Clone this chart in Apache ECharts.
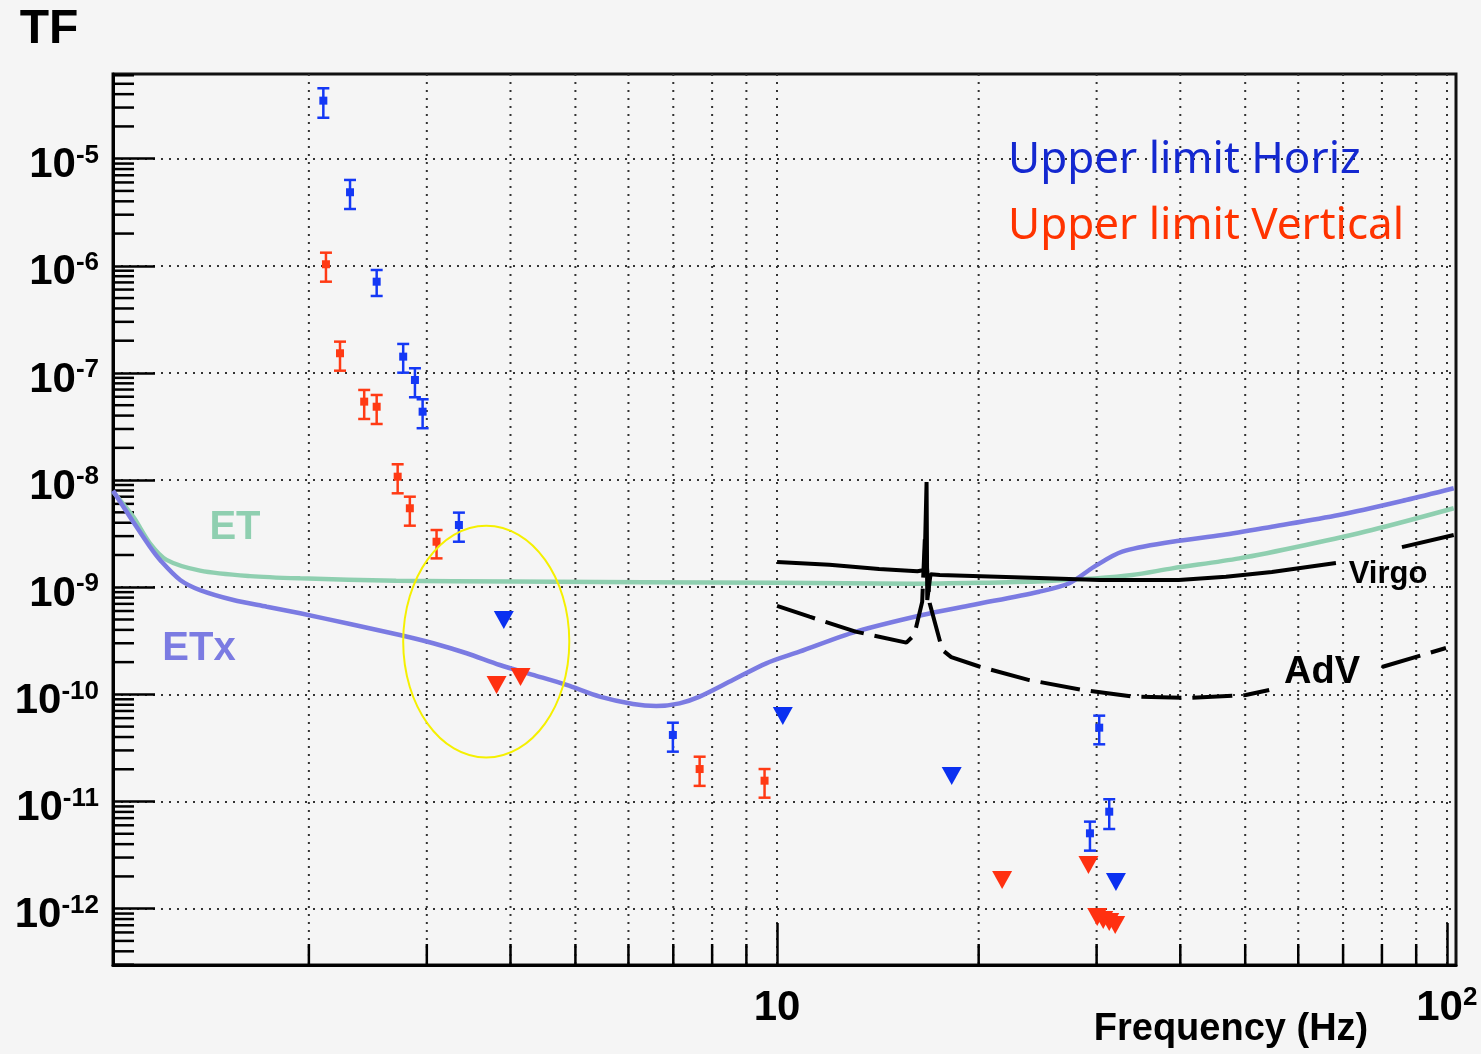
<!DOCTYPE html>
<html><head><meta charset="utf-8">
<script src="https://cdn.jsdelivr.net/npm/echarts@6/dist/echarts.min.js"></script>
<style>html,body{margin:0;padding:0;background:#f5f5f5;} #c{width:1481px;height:1054px;}</style>
</head><body><div id="c"></div>
<script>
// ---- Data ----
const etFreq = [1.02, 1.093, 1.158, 1.226, 1.376, 1.634, 1.941, 2.7, 4.0, 10, 16, 20, 25, 29.8, 33.9, 38.9, 49, 61.6, 77.3, 102.4];
const etTF   = [7.8e-9, 4.56e-9, 2.57e-9, 1.8e-9, 1.43e-9, 1.27e-9, 1.21e-9, 1.15e-9, 1.13e-9, 1.1e-9, 1.08e-9, 1.1e-9, 1.14e-9, 1.21e-9, 1.3e-9, 1.5e-9, 1.86e-9, 2.48e-9, 3.42e-9, 5.46e-9];

const etxFreq = [1.02, 1.093, 1.158, 1.2, 1.285, 1.376, 1.543, 1.731, 1.941, 2.304, 2.735, 3.067, 3.44, 3.856, 4.323, 4.85, 5.437, 6.095, 6.603, 7.154, 7.664, 8.59, 9.636, 10.8, 13.12, 16.48, 19.57, 24.63, 27.31, 29.76, 32.76, 38.9, 46.2, 54.8, 69.0, 86.9, 102.4];
const etxTF   = [7.94e-9, 4.09e-9, 2.39e-9, 1.79e-9, 1.17e-9, 9.41e-10, 7.6e-10, 6.58e-10, 5.71e-10, 4.54e-10, 3.58e-10, 3.0e-10, 2.42e-10, 1.88e-10, 1.52e-10, 1.224e-10, 9.52e-11, 8.13e-11, 7.79e-11, 8.25e-11, 9.52e-11, 1.36e-10, 1.95e-10, 2.5e-10, 3.85e-10, 5.51e-10, 6.83e-10, 9.09e-10, 1.09e-9, 1.556e-9, 2.15e-9, 2.66e-9, 3.07e-9, 3.67e-9, 4.72e-9, 6.52e-9, 8.4e-9];

const virgoFreq = [10.0, 11.97, 14.2, 16.2, 16.6, 16.72, 16.76, 16.95, 17.5, 24.6, 30.3, 39.8, 46.8, 54.8, 68.3, 75, 85.7, 102.4];
const virgoTF   = [1.72e-9, 1.62e-9, 1.48e-9, 1.41e-9, 1.45e-9, 9.6e-9, 7.6e-10, 1.32e-9, 1.30e-9, 1.22e-9, 1.17e-9, 1.17e-9, 1.25e-9, 1.39e-9, 1.68e-9, null, 2.37e-9, 3.07e-9];

const advFreq = [10.0, 11.18, 13.1, 15.6, 16.03, 16.47, 16.62, 16.9, 17.65, 18.2, 20.04, 23.8, 28.6, 33.9, 41.2, 50.1, 54.3, 65, 80, 99.7];
const advTF   = [6.7e-10, 5.31e-10, 3.85e-10, 3.04e-10, 3.59e-10, 7.3e-10, 2.8e-9, 7.1e-10, 2.6e-10, 2.23e-10, 1.82e-10, 1.36e-10, 1.1e-10, 9.55e-11, 9.25e-11, 9.86e-11, 1.1e-10, null, 1.8e-10, 2.71e-10];

// Upper limit Horiz (measured points with error bars)
const hFreq = [2.102, 2.304, 2.525, 2.766, 2.88, 2.957, 3.35, 6.99, 30.27, 31.33, 29.32];
const hTF   = [3.48e-5, 4.86e-6, 7.11e-7, 1.42e-7, 8.6e-8, 4.35e-8, 3.81e-9, 4.18e-11, 4.89e-11, 8.04e-12, 5.05e-12];
const hLow  = [2.41e-5, 3.39e-6, 5.23e-7, 1.006e-7, 5.93e-8, 3.05e-8, 2.66e-9, 2.92e-11, 3.42e-11, 5.54e-12, 3.48e-12];
const hHigh = [4.54e-5, 6.33e-6, 9.14e-7, 1.865e-7, 1.106e-7, 5.68e-8, 4.97e-9, 5.44e-11, 6.33e-11, 1.05e-11, 6.49e-12];
// Upper limit Vertical (measured points with error bars)
const vFreq = [2.121, 2.226, 2.419, 2.525, 2.714, 2.83, 3.102, 7.664, 9.58];
const vTF   = [1.034e-6, 1.527e-7, 5.4e-8, 4.84e-8, 1.076e-8, 5.46e-9, 2.66e-9, 2.01e-11, 1.565e-11];
const vLow  = [7.11e-7, 1.05e-7, 3.72e-8, 3.34e-8, 7.53e-9, 3.755e-9, 1.86e-9, 1.4e-11, 1.086e-11];
const vHigh = [1.326e-6, 1.96e-7, 6.94e-8, 6.23e-8, 1.405e-8, 7.0e-9, 3.42e-9, 2.62e-11, 2.01e-11];
// Upper limits (triangles)
const hLimFreq = [3.909, 10.2, 18.23, 32.06];
const hLimTF   = [4.95e-10, 6.29e-11, 1.73e-11, 1.775e-12];
const vLimFreq = [3.813, 4.14, 21.68, 29.17, 30.06, 30.69, 31.33, 31.98];
const vLimTF   = [1.224e-10, 1.453e-10, 1.853e-12, 2.557e-12, 8.37e-13, 7.84e-13, 7.51e-13, 7.04e-13];
// Highlight ellipse: centre (f, TF), left-edge f, top-edge TF
const ellipseDef = [3.68, 3.11e-10, 2.766, 3.755e-9];

// Axis ranges and tick labels
const xMin = 1.02, xMax = 103.2;
const yMin = 2.98e-13, yMax = 6.17e-5;
const minorMultipliers = [2, 3, 4, 5, 6, 7, 8, 9];
const xDecades = [0, 1];
const yDecades = [-13, -12, -11, -10, -9, -8, -7, -6, -5];

// ---- Build ----
const zip = (a, b) => a.map((v, i) => [v, b[i] === null ? '-' : b[i]]);
const xMinor = [];
xDecades.forEach(d => minorMultipliers.forEach(m => { const v = m * Math.pow(10, d); if (v > xMin && v < xMax) xMinor.push(v); }));
const yMinor = [];
yDecades.forEach(d => minorMultipliers.forEach(m => { const v = m * Math.pow(10, d); if (v > yMin && v < yMax) yMinor.push(v); }));

const FONT = '"Liberation Sans", Arial, Helvetica, sans-serif';
const BLUE = '#1438f5', RED = '#ff3a14';

function isDecade(v) { const l = Math.log10(v); return Math.abs(l - Math.round(l)) < 1e-6; }

function errRender(color) {
  return function (params, api) {
    const f = api.value(0);
    const c = api.coord([f, api.value(1)]);
    const lo = api.coord([f, api.value(2)]);
    const hi = api.coord([f, api.value(3)]);
    const st = { stroke: color, lineWidth: 2.5 };
    return { type: 'group', children: [
      { type: 'line', shape: { x1: c[0], y1: hi[1], x2: c[0], y2: lo[1] }, style: st },
      { type: 'line', shape: { x1: c[0] - 6, y1: hi[1], x2: c[0] + 6, y2: hi[1] }, style: st },
      { type: 'line', shape: { x1: c[0] - 6, y1: lo[1], x2: c[0] + 6, y2: lo[1] }, style: st },
      { type: 'rect', shape: { x: c[0] - 4, y: c[1] - 4, width: 8, height: 8 }, style: { fill: color } }
    ]};
  };
}

const labelRich = {
  b: { fontFamily: FONT, fontWeight: 'bold', fontSize: 42, color: '#000', lineHeight: 46 },
  s: { fontFamily: FONT, fontWeight: 'bold', fontSize: 26, color: '#000', verticalAlign: 'top', lineHeight: 14 }
};

const chart = echarts.init(document.getElementById('c'), null, { renderer: 'canvas' });
chart.setOption({
  backgroundColor: '#f5f5f5',
  animation: false,
  grid: { left: 113, right: 25, top: 74, bottom: 89, show: true, borderColor: '#111', borderWidth: 3, backgroundColor: 'transparent' },
  xAxis: {
    type: 'log', logBase: 10, min: xMin, max: xMax,
    axisLine: { show: true, onZero: false, lineStyle: { color: '#000', width: 3 } },
    axisTick: { show: true, inside: true, length: 42, lineStyle: { color: '#000', width: 2.5 } },
    splitLine: { show: true, showMinLine: false, showMaxLine: false, lineStyle: { color: '#333', width: 2, type: [2, 6] } },
    axisLabel: {
      margin: 20, showMinLabel: false, showMaxLabel: false,
      formatter: v => { if (!isDecade(v)) return ''; const e = Math.round(Math.log10(v)); return e === 1 ? '{b|10}' : '{b|10}{s|' + e + '}'; },
      rich: labelRich
    }
  },
  yAxis: {
    type: 'log', logBase: 10, min: yMin, max: yMax,
    axisLine: { show: true, onZero: false, lineStyle: { color: '#000', width: 3 } },
    axisTick: { show: true, inside: true, length: 42, lineStyle: { color: '#000', width: 2.5 } },
    splitLine: { show: true, showMinLine: false, showMaxLine: false, lineStyle: { color: '#333', width: 2, type: [2, 6] } },
    axisLabel: {
      margin: 14, showMinLabel: false, showMaxLabel: false, padding: [14, 0, 0, 0],
      formatter: v => { if (!isDecade(v)) return ''; const e = Math.round(Math.log10(v)); return '{b|10}{s|' + e + '}'; },
      rich: labelRich
    }
  },
  graphic: [
    { type: 'text', z: 100, style: { text: 'TF', x: 49, y: 30, font: 'bold 48px ' + FONT, fill: '#000', align: 'center', verticalAlign: 'middle' } },
    { type: 'text', z: 100, style: { text: 'ET', x: 235, y: 528, font: 'bold 40px ' + FONT, fill: '#8fcfb0', align: 'center', verticalAlign: 'middle' } },
    { type: 'text', z: 100, style: { text: 'ETx', x: 199, y: 649, font: 'bold 40px ' + FONT, fill: '#7b7be2', align: 'center', verticalAlign: 'middle' } },
    { type: 'text', z: 100, style: { text: 'Virgo', x: 1388, y: 574, font: 'bold 31px ' + FONT, fill: '#000', align: 'center', verticalAlign: 'middle' } },
    { type: 'text', z: 100, style: { text: 'AdV', x: 1322, y: 673, font: 'bold 38px ' + FONT, fill: '#000', align: 'center', verticalAlign: 'middle' } },
    { type: 'text', z: 100, style: { text: 'Frequency (Hz)', x: 1231, y: 1030, font: 'bold 38px ' + FONT, fill: '#000', align: 'center', verticalAlign: 'middle' } },
    { type: 'text', z: 100, style: { text: 'Upper limit Horiz', x: 1008, y: 160, font: '44px "Noto Sans", sans-serif', fill: '#1428d0', align: 'left', verticalAlign: 'middle' } },
    { type: 'text', z: 100, style: { text: 'Upper limit Vertical', x: 1008, y: 226, font: '44px "Noto Sans", sans-serif', fill: '#ff3300', align: 'left', verticalAlign: 'middle' } }
  ],
  series: [
    { // minor vertical grid lines + minor x ticks
      type: 'custom', z: 1, silent: true,
      data: xMinor.map(v => [v, 1e-8]),
      encode: { x: 0, y: 1 },
      renderItem: (params, api) => {
        const p = api.coord([api.value(0), api.value(1)]);
        const cs = params.coordSys;
        return { type: 'group', children: [
          { type: 'line', shape: { x1: p[0], y1: cs.y, x2: p[0], y2: cs.y + cs.height }, style: { stroke: '#333', lineWidth: 2, lineDash: [2, 6] } },
          { type: 'line', shape: { x1: p[0], y1: cs.y + cs.height, x2: p[0], y2: cs.y + cs.height - 21 }, style: { stroke: '#000', lineWidth: 2.5 } }
        ]};
      }
    },
    { // minor y ticks
      type: 'custom', z: 1, silent: true,
      data: yMinor.map(v => [10, v]),
      encode: { x: 0, y: 1 },
      renderItem: (params, api) => {
        const p = api.coord([api.value(0), api.value(1)]);
        const cs = params.coordSys;
        return { type: 'line', shape: { x1: cs.x, y1: p[1], x2: cs.x + 21, y2: p[1] }, style: { stroke: '#000', lineWidth: 2.5 } };
      }
    },
    { name: 'ET', type: 'line', z: 3, showSymbol: false, smooth: 0.3, data: zip(etFreq, etTF), lineStyle: { color: '#8fcfb0', width: 4.5 } },
    { name: 'ETx', type: 'line', z: 3, showSymbol: false, smooth: 0.3, data: zip(etxFreq, etxTF), lineStyle: { color: '#7b7be2', width: 4.5 } },
    { name: 'Virgo', type: 'line', z: 4, showSymbol: false, connectNulls: false, data: zip(virgoFreq, virgoTF), lineStyle: { color: '#000', width: 4 } },
    { name: 'AdV', type: 'line', z: 4, showSymbol: false, connectNulls: false, data: zip(advFreq, advTF), lineStyle: { color: '#000', width: 4, type: [40, 11] } },
    { name: 'Horiz', type: 'custom', z: 5, data: hFreq.map((f, i) => [f, hTF[i], hLow[i], hHigh[i]]), encode: { x: 0, y: [1, 2, 3] }, renderItem: errRender(BLUE) },
    { name: 'Vertical', type: 'custom', z: 5, data: vFreq.map((f, i) => [f, vTF[i], vLow[i], vHigh[i]]), encode: { x: 0, y: [1, 2, 3] }, renderItem: errRender(RED) },
    { name: 'Horiz limit', type: 'scatter', z: 5, symbol: 'triangle', symbolRotate: 180, symbolSize: [20, 18], data: zip(hLimFreq, hLimTF), itemStyle: { color: '#0a30f0', opacity: 1 } },
    { name: 'Vertical limit', type: 'scatter', z: 5, symbol: 'triangle', symbolRotate: 180, symbolSize: [20, 18], data: zip(vLimFreq, vLimTF), itemStyle: { color: '#ff3010', opacity: 1 } },
    { name: 'highlight', type: 'custom', z: 6, silent: true, data: [ellipseDef], encode: { x: 0, y: 1 },
      renderItem: (params, api) => {
        const c = api.coord([api.value(0), api.value(1)]);
        const l = api.coord([api.value(2), api.value(1)]);
        const t = api.coord([api.value(0), api.value(3)]);
        return { type: 'ellipse', shape: { cx: c[0], cy: c[1], rx: c[0] - l[0], ry: c[1] - t[1] }, style: { fill: null, stroke: '#f5f000', lineWidth: 2 } };
      }
    }
  ]
});
</script></body></html>
